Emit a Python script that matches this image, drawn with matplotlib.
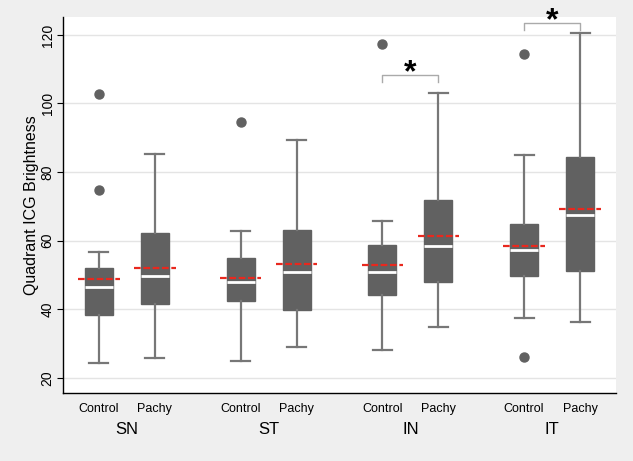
import matplotlib
matplotlib.use('Agg')
import matplotlib.pyplot as plt

plt.rcParams['font.family'] = ['Liberation Sans', 'DejaVu Sans']

regions = ['SN', 'ST', 'IN', 'IT']
groups = ['Control', 'Pachy']

# per box, in order SN-C, SN-P, ST-C, ST-P, IN-C, IN-P, IT-C, IT-P
whislo = [24.4, 25.9, 25.0, 28.9, 28.0, 34.8, 37.5, 36.2]
q1 = [38.3, 41.6, 42.3, 39.7, 44.3, 47.9, 49.6, 51.2]
med = [46.4, 49.8, 47.9, 50.8, 50.8, 58.6, 57.4, 67.6]
q3 = [51.9, 62.3, 55.1, 63.1, 58.8, 72.0, 64.9, 84.3]
whishi = [56.8, 85.2, 62.9, 89.4, 65.8, 103.1, 85.1, 120.6]
means = [48.7, 52.0, 49.0, 53.1, 52.8, 61.5, 58.6, 69.3]
fliers = [[102.8, 74.9], [], [94.7], [], [117.3], [], [114.4, 26.2], []]

# significance: (control index, pachy index, bracket height)
sig = [(4, 5, 108.2), (6, 7, 123.5)]

gap = 1.53
pos = []
for i in range(len(regions)):
    pos += [i * (1 + gap), i * (1 + gap) + 1]

stats = []
for i in range(len(pos)):
    stats.append(dict(whislo=whislo[i], q1=q1[i], med=med[i], q3=q3[i],
                      whishi=whishi[i], fliers=fliers[i]))

fig = plt.figure(figsize=(6.33, 4.61), dpi=100, facecolor='#efefef')
ax = fig.add_axes([0.0995, 0.1475, 0.8735, 0.8155])
ax.set_facecolor('white')

box_c = '#616161'
line_c = '#777777'
ax.bxp(stats, positions=pos, widths=0.5, patch_artist=True, showfliers=True,
       boxprops=dict(facecolor=box_c, edgecolor=box_c, linewidth=1),
       medianprops=dict(color='white', linewidth=2),
       whiskerprops=dict(color=line_c, linewidth=1.6),
       capprops=dict(color=line_c, linewidth=1.6),
       capwidths=0.34,
       flierprops=dict(marker='o', markerfacecolor=box_c, markeredgecolor=box_c,
                       markersize=6.5))

# mean lines, red dashed
for p, m in zip(pos, means):
    ax.hlines(m, p - 0.37, p + 0.37, colors='#e8281e', linestyles=(0, (3, 1.2)),
              linewidth=1.6, zorder=4)

# significance brackets
for a, b, h in sig:
    x0, x1 = pos[a], pos[b]
    ax.plot([x0, x0, x1, x1], [h - 2, h, h, h - 2], color='#aaaaaa',
            linewidth=1, clip_on=False)
    ax.text((x0 + x1) / 2, h - 1.8, '*', ha='center', va='baseline',
            fontsize=23, fontweight='bold', clip_on=False)

ax.set_xlim(pos[0] - 0.64, pos[-1] + 0.64)
ax.set_ylim(15.6, 125.2)
ax.set_yticks([20, 40, 60, 80, 100, 120])
ax.set_yticklabels(['20', '40', '60', '80', '100', '120'], rotation=90,
                   va='center', fontsize=10)
ax.set_xticks(pos)
ax.set_xticklabels(groups * len(regions), fontsize=9)
ax.tick_params(axis='x', length=0, pad=7)
ax.tick_params(axis='y', length=4.5, width=0.8, pad=1.5)
ax.set_ylabel('Quadrant ICG Brightness', fontsize=11.5, labelpad=1)

for i, r in enumerate(regions):
    ax.text((pos[2 * i] + pos[2 * i + 1]) / 2, -0.098, r, ha='center', va='center',
            fontsize=12, transform=ax.get_xaxis_transform())

ax.grid(axis='y', color='#e4e4e4', linewidth=1)
ax.set_axisbelow(True)
ax.spines['top'].set_visible(False)
ax.spines['right'].set_visible(False)
ax.spines['left'].set_linewidth(1)
ax.spines['bottom'].set_linewidth(1)

fig.savefig('out.png', dpi=100, facecolor=fig.get_facecolor())
